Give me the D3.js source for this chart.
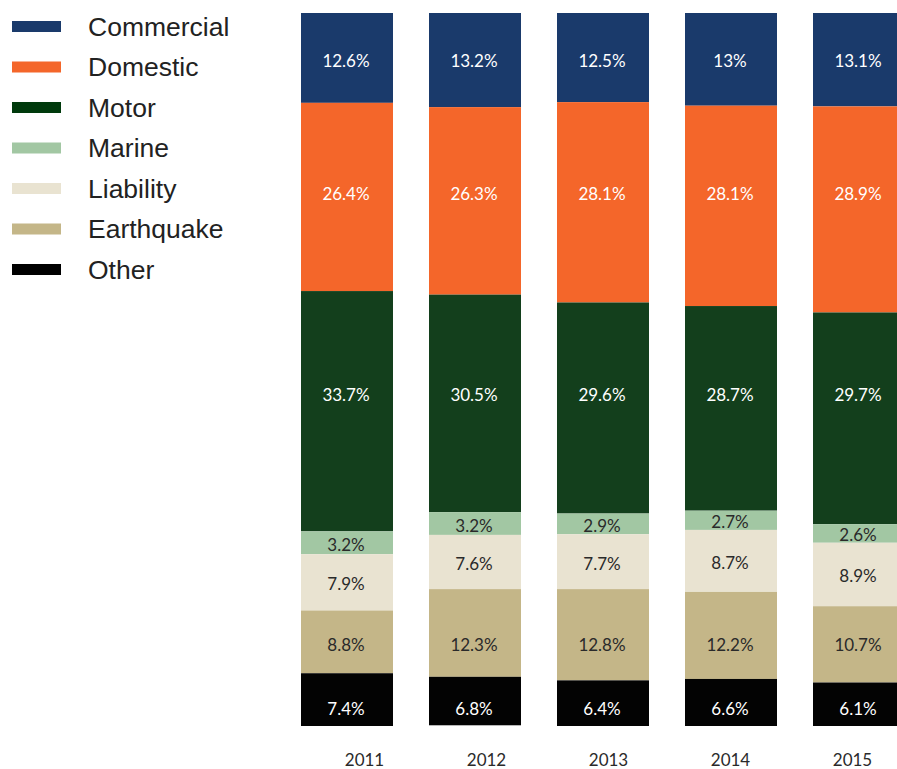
<!DOCTYPE html>
<html>
<head>
<meta charset="utf-8">
<script src="https://cdn.jsdelivr.net/npm/d3@7"></script>
<style>
  body { margin: 0; background: #fff; }
</style>
</head>
<body>
<svg id="chart" width="897" height="769"></svg>
<script>
// Data
const years = ["2011", "2012", "2013", "2014", "2015"];
const categories = ["Commercial", "Domestic", "Motor", "Marine", "Liability", "Earthquake", "Other"];
const commercial = [12.6, 13.2, 12.5, 13, 13.1];
const domestic   = [26.4, 26.3, 28.1, 28.1, 28.9];
const motor      = [33.7, 30.5, 29.6, 28.7, 29.7];
const marine     = [3.2, 3.2, 2.9, 2.7, 2.6];
const liability  = [7.9, 7.6, 7.7, 8.7, 8.9];
const earthquake = [8.8, 12.3, 12.8, 12.2, 10.7];
const other      = [7.4, 6.8, 6.4, 6.6, 6.1];

const colors = ["#1a3a6b", "#f4662a", "#133f1c", "#a2c7a3", "#e9e3d1", "#c4b688", "#030303"];
const legendColors = ["#1a3a6b", "#f4662a", "#003a0c", "#a2c7a3", "#e9e3d1", "#c4b688", "#000000"];
const labelColors = ["#ffffff", "#ffffff", "#ffffff", "#2a2a2a", "#2a2a2a", "#2a2a2a", "#ffffff"];

// in the original most labels sit on one shared row (in % of the stack);
// null means the label is centred in its own segment
const labelRow = [6.45, 25.1, 53.3, null, null, 88.4, 97.3];

const seriesValues = [commercial, domestic, motor, marine, liability, earthquake, other];

// build rows for the stack
const rows = years.map((yr, i) => {
  const r = {year: yr};
  categories.forEach((c, k) => { r[c] = seriesValues[k][i]; });
  return r;
});

const stack = d3.stack().keys(categories);
const series = stack(rows);

const svg = d3.select("#chart");

// scales (last bar runs off the right edge, as in the original)
const x = d3.scaleBand()
    .domain(years)
    .range([301, 905])
    .paddingInner(0.28125)
    .paddingOuter(0);

const y = d3.scaleLinear().domain([0, 100]).range([13, 726]);

const color = d3.scaleOrdinal().domain(categories).range(colors);

// bars
const groups = svg.append("g")
  .selectAll("g")
  .data(series)
  .join("g")
    .attr("fill", d => color(d.key));

groups.selectAll("rect")
  .data(d => d)
  .join("rect")
    .attr("x", d => x(d.data.year))
    .attr("y", d => y(d[0]))
    .attr("width", x.bandwidth())
    .attr("height", d => y(d[1]) - y(d[0]));

// value labels
series.forEach((s, k) => {
  svg.append("g")
    .selectAll("text")
    .data(s)
    .join("text")
      .attr("x", d => x(d.data.year) + x.bandwidth() / 2 - 1)
      .attr("y", d => (labelRow[k] !== null ? y(labelRow[k]) : (y(d[0]) + y(d[1])) / 2) + 1.5)
      .attr("text-anchor", "middle")
      .attr("dominant-baseline", "central")
      .attr("font-family", "Lato, 'Open Sans', sans-serif")
      .attr("font-size", 17)
      .attr("fill", labelColors[k])
      .text(d => d.data[s.key] + "%");
});

// year labels (sit slightly off the bar centres in the original)
const xLabel = d3.scalePoint().domain(years).range([364, 852]);
const xAxis = svg.append("g")
    .attr("transform", "translate(0,760)")
    .call(d3.axisBottom(xLabel).tickSize(0).tickPadding(0));
xAxis.select(".domain").remove();
xAxis.selectAll("text")
    .attr("font-family", "Lato, 'Open Sans', sans-serif")
    .attr("font-size", 17)
    .attr("fill", "#2a2a2a")
    .attr("dy", "0.35em")
    .attr("y", 0);

// legend
const legendY = d3.scalePoint().domain(categories).range([26.5, 269.5]);
const legend = svg.append("g")
  .selectAll("g")
  .data(categories)
  .join("g")
    .attr("transform", d => "translate(12," + legendY(d) + ")");

legend.append("rect")
    .attr("x", 0)
    .attr("y", -5.5)
    .attr("width", 49)
    .attr("height", 11)
    .attr("fill", (d, i) => legendColors[i]);

legend.append("text")
    .attr("x", 76)
    .attr("y", 0)
    .attr("dominant-baseline", "central")
    .attr("font-family", "'Liberation Sans', Arial, sans-serif")
    .attr("font-size", 26.5)
    .attr("fill", "#222")
    .text(d => d);
</script>
</body>
</html>
